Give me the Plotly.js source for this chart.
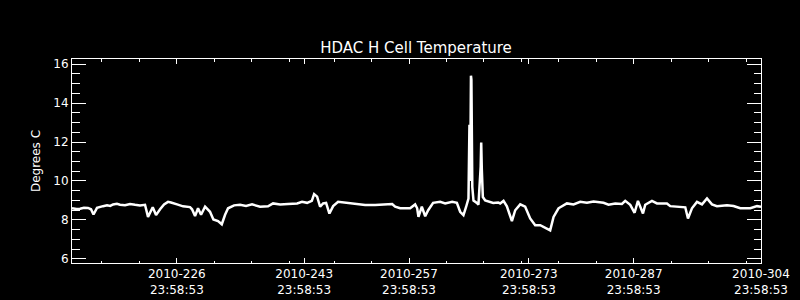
<!DOCTYPE html>
<html>
<head>
<meta charset="utf-8">
<script src="https://cdn.plot.ly/plotly-3.0.1.min.js"></script>
<style>html,body{margin:0;padding:0;background:#000;}#chart{width:800px;height:300px;}</style>
</head>
<body>
<div id="chart"></div>
<script>
// Day of year 2010 (time of day 23:58:53 offset folded into axis labels)
const days = [212.00,212.60,213.07,213.60,214.14,214.54,214.87,215.34,216.14,216.68,217.10,217.48,218.00,218.41,219.08,219.75,220.42,221.08,221.75,222.15,222.78,223.22,223.76,224.29,224.82,225.22,226.03,226.83,227.76,228.03,228.43,228.83,229.23,229.77,230.43,230.88,231.50,232.00,232.44,232.84,233.64,234.44,235.24,236.04,237.11,238.18,238.85,239.79,240.85,242.06,242.72,243.39,244.02,244.33,244.73,245.13,245.53,245.93,246.37,246.87,247.53,248.20,249.14,250.07,251.14,252.48,253.81,254.75,255.15,255.82,257.15,257.82,258.09,258.26,258.71,259.16,259.56,260.22,261.16,261.83,262.76,263.39,263.83,264.27,264.63,264.94,265.07,265.17,265.27,265.33,265.45,265.61,266.06,266.27,266.57,266.64,266.72,266.86,267.17,267.84,268.24,268.91,269.17,269.62,270.07,270.74,271.18,271.85,272.51,273.18,273.85,274.52,275.41,275.85,276.30,276.96,278.08,278.97,279.86,280.76,281.64,282.97,283.64,284.54,285.43,285.87,286.54,287.12,287.57,287.88,288.24,288.54,289.44,290.11,291.44,291.88,293.22,293.89,294.25,294.78,295.45,296.12,296.79,297.45,298.12,299.46,300.34,301.23,302.57,303.47,304.00];
const temps = [8.60,8.56,8.58,8.63,8.62,8.55,8.28,8.62,8.71,8.75,8.72,8.80,8.83,8.78,8.76,8.82,8.78,8.75,8.78,8.16,8.65,8.25,8.55,8.80,8.93,8.90,8.80,8.70,8.66,8.55,8.20,8.60,8.27,8.68,8.42,8.03,7.94,7.78,8.27,8.60,8.75,8.78,8.72,8.80,8.68,8.70,8.85,8.80,8.82,8.85,8.93,8.88,8.98,9.33,9.20,8.68,8.85,8.88,8.33,8.71,8.93,8.90,8.85,8.80,8.77,8.77,8.78,8.82,8.68,8.60,8.60,8.80,8.60,8.16,8.68,8.19,8.50,8.88,8.93,8.85,8.93,8.88,8.42,8.25,8.68,9.10,12.88,10.00,15.40,15.20,9.70,9.00,8.87,8.78,10.73,11.97,10.60,9.18,9.00,8.93,8.87,8.90,8.85,8.98,8.70,7.94,8.50,8.80,8.68,8.08,7.73,7.73,7.56,7.47,8.16,8.60,8.85,8.80,8.93,8.88,8.95,8.88,8.78,8.85,8.82,8.98,8.78,8.37,8.98,8.71,8.33,8.78,8.98,8.85,8.85,8.71,8.68,8.65,8.08,8.60,8.93,8.80,9.10,8.80,8.71,8.75,8.72,8.60,8.60,8.71,8.68];
const tickDays = [226, 243, 257, 273, 287, 304];
const tickLabels = ["2010-226<br>23:58:53","2010-243<br>23:58:53","2010-257<br>23:58:53","2010-273<br>23:58:53","2010-287<br>23:58:53","2010-304<br>23:58:53"];
const minorDays = [216,221,231,236,241,247,252,262,267,272,277,282,292,297,302];
const yTicks = [6, 8, 10, 12, 14, 16];

const font = {family: "DejaVu Sans, sans-serif", size: 12, color: "#ffffff"};

Plotly.newPlot("chart", [{
  x: days, y: temps, type: "scatter", mode: "lines",
  line: {color: "#ffffff", width: 2.5}, hoverinfo: "skip"
}], {
  width: 800, height: 300,
  paper_bgcolor: "#000000", plot_bgcolor: "#000000",
  margin: {l: 72, r: 39, t: 59, b: 37},
  showlegend: false,
  font: font,
  title: {text: "HDAC H Cell Temperature", font: {family: "DejaVu Sans, sans-serif", size: 15, color: "#ffffff"},
          x: 0.52, xref: "container", y: 0.842, yref: "container", yanchor: "middle", xanchor: "center"},
  xaxis: {
    range: [212, 304], tickmode: "array", tickvals: tickDays, ticktext: tickLabels,
    ticks: "inside", ticklen: 5, tickwidth: 1, tickcolor: "#ffffff",
    showline: true, linecolor: "#ffffff", linewidth: 1, mirror: "ticks",
    showgrid: false, zeroline: false, tickfont: font,
    minor: {tickmode: "array", tickvals: minorDays, ticks: "inside", ticklen: 2.5, tickcolor: "#ffffff", tickwidth: 1, showgrid: false}
  },
  yaxis: {
    range: [5.794, 16.257], tickmode: "array", tickvals: yTicks,
    ticks: "inside", ticklen: 14, tickwidth: 1, tickcolor: "#ffffff",
    showline: true, linecolor: "#ffffff", linewidth: 1, mirror: "ticks",
    showgrid: false, zeroline: false, tickfont: font,
    minor: {dtick: 0.5, tick0: 0, ticks: "inside", ticklen: 7.5, tickcolor: "#ffffff", tickwidth: 1, showgrid: false},
    title: {text: "Degrees C", font: font, standoff: 10}
  }
}, {displayModeBar: false, staticPlot: true});
</script>
</body>
</html>
